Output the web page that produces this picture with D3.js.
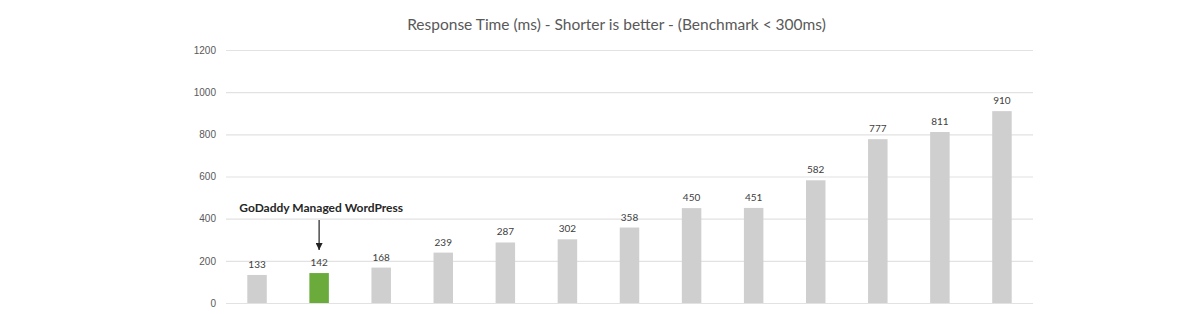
<!DOCTYPE html>
<html>
<head>
<meta charset="utf-8">
<script src="https://cdn.jsdelivr.net/npm/d3@7"></script>
<style>
  body { margin: 0; background: #fff; }
  svg { display: block; font-family: Lato, "Open Sans", sans-serif; }
</style>
</head>
<body>
<svg id="chart" width="1200" height="314"></svg>
<script>
// values
const hosts = ["h1", "GoDaddy", "h3", "h4", "h5", "h6", "h7", "h8", "h9", "h10", "h11", "h12", "h13"];
const responseMs = [133, 142, 168, 239, 287, 302, 358, 450, 451, 582, 777, 811, 910];
const yTicks = [0, 200, 400, 600, 800, 1000, 1200];
const highlightHost = "GoDaddy";
const highlightLabel = "GoDaddy Managed WordPress";
const title = "Response Time (ms) - Shorter is better - (Benchmark < 300ms)";

const svg = d3.select('#chart');
const margin = { top: 50, right: 167, bottom: 11, left: 226 };
const width = 1200 - margin.left - margin.right;
const height = 314 - margin.top - margin.bottom;

const g = svg.append('g').attr('transform', `translate(${margin.left},${margin.top})`);

const x = d3.scaleBand().domain(hosts).range([0, width]).paddingInner(0.686).paddingOuter(0.343);
const y = d3.scaleLinear().domain([0, 1200]).range([height, 0]);

// gridlines + labels
const yAxis = d3.axisLeft(y).tickValues(yTicks).tickSize(-width).tickPadding(10).tickFormat(d3.format('d'));
g.append('g').call(yAxis)
    .call(a => a.select('.domain').remove())
    .call(a => a.selectAll('line').attr('stroke', '#e2e2e2').attr('stroke-width', 1.2))
    .call(a => a.selectAll('text').attr('fill', '#595959').style('font-size', '10px'));

const data = hosts.map((h, i) => ({ host: h, value: responseMs[i] }));

g.selectAll('.bar')
    .data(data)
    .join('rect')
    .attr('class', 'bar')
    .attr('x', d => x(d.host))
    .attr('width', x.bandwidth())
    .attr('y', d => y(d.value))
    .attr('height', d => height - y(d.value))
    .attr('fill', d => d.host === highlightHost ? '#6aab3c' : '#d0cfcf');

g.selectAll('.val')
    .data(data)
    .join('text')
    .attr('class', 'val')
    .attr('x', d => x(d.host) + x.bandwidth() / 2)
    .attr('y', d => y(d.value) - 7)
    .attr('text-anchor', 'middle')
    .attr('fill', '#404040')
    .style('font-size', '10px')
    .text(d => d.value);

// annotation arrow
const hx = x(highlightHost) + x.bandwidth() / 2;
const hv = responseMs[hosts.indexOf(highlightHost)];
svg.append('defs').append('marker')
    .attr('id', 'arrow')
    .attr('viewBox', '0 0 10 10')
    .attr('refX', 10).attr('refY', 5)
    .attr('markerWidth', 6).attr('markerHeight', 6)
    .attr('orient', 'auto')
    .append('path').attr('d', 'M0,0L10,5L0,10Z').attr('fill', '#222');

g.append('line')
    .attr('x1', hx).attr('x2', hx)
    .attr('y1', y(hv) - 53).attr('y2', y(hv) - 23)
    .attr('stroke', '#222').attr('stroke-width', 1.2)
    .attr('marker-end', 'url(#arrow)');

g.append('text')
    .attr('x', x(hosts[0]) - 8)
    .attr('y', y(hv) - 61)
    .attr('fill', '#262626')
    .style('font-size', '12px')
    .style('font-weight', 'bold')
    .text(highlightLabel);

svg.append('text')
    .attr('x', margin.left + width / 2 - 13)
    .attr('y', 30)
    .attr('text-anchor', 'middle')
    .attr('fill', '#595959')
    .style('font-size', '15.5px')
    .text(title);
</script>
</body>
</html>
